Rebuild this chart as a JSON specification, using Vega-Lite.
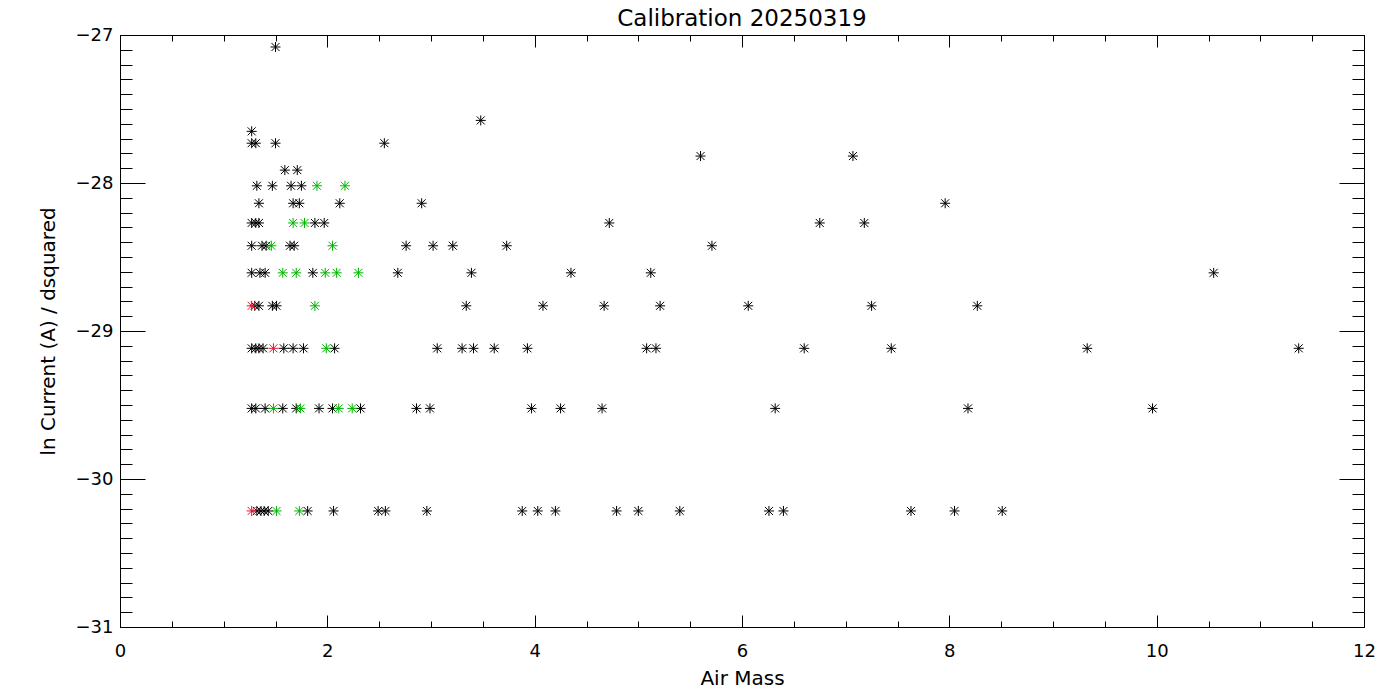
{
  "$schema": "https://vega.github.io/schema/vega-lite/v6.json",
  "width": 1244,
  "height": 592,
  "autosize": {"type": "none"},
  "padding": {"left": 120, "top": 35, "right": 36, "bottom": 73},
  "background": "white",
  "config": {"view": {"stroke": null}},
  "title": {"text": "Calibration 20250319", "font": "DejaVu Sans", "fontSize": 23, "fontWeight": "normal", "color": "black", "anchor": "middle", "frame": "group", "offset": 9, "dy": 14},
  "data": {"values": [
    {"x": 1.50, "y": -27.081, "c": "k"},
    {"x": 3.48, "y": -27.577, "c": "k"},
    {"x": 1.27, "y": -27.651, "c": "k"},
    {"x": 1.27, "y": -27.731, "c": "k"},
    {"x": 1.31, "y": -27.731, "c": "k"},
    {"x": 1.50, "y": -27.731, "c": "k"},
    {"x": 2.55, "y": -27.731, "c": "k"},
    {"x": 5.60, "y": -27.818, "c": "k"},
    {"x": 7.07, "y": -27.818, "c": "k"},
    {"x": 1.59, "y": -27.913, "c": "k"},
    {"x": 1.71, "y": -27.913, "c": "k"},
    {"x": 1.32, "y": -28.019, "c": "k"},
    {"x": 1.47, "y": -28.019, "c": "k"},
    {"x": 1.65, "y": -28.019, "c": "k"},
    {"x": 1.75, "y": -28.019, "c": "k"},
    {"x": 1.34, "y": -28.137, "c": "k"},
    {"x": 1.67, "y": -28.137, "c": "k"},
    {"x": 1.73, "y": -28.137, "c": "k"},
    {"x": 2.12, "y": -28.137, "c": "k"},
    {"x": 2.91, "y": -28.137, "c": "k"},
    {"x": 7.96, "y": -28.137, "c": "k"},
    {"x": 1.27, "y": -28.270, "c": "k"},
    {"x": 1.31, "y": -28.270, "c": "k"},
    {"x": 1.34, "y": -28.270, "c": "k"},
    {"x": 1.88, "y": -28.270, "c": "k"},
    {"x": 1.97, "y": -28.270, "c": "k"},
    {"x": 4.72, "y": -28.270, "c": "k"},
    {"x": 6.75, "y": -28.270, "c": "k"},
    {"x": 7.18, "y": -28.270, "c": "k"},
    {"x": 1.27, "y": -28.424, "c": "k"},
    {"x": 1.37, "y": -28.424, "c": "k"},
    {"x": 1.41, "y": -28.424, "c": "k"},
    {"x": 1.64, "y": -28.424, "c": "k"},
    {"x": 1.68, "y": -28.424, "c": "k"},
    {"x": 2.76, "y": -28.424, "c": "k"},
    {"x": 3.02, "y": -28.424, "c": "k"},
    {"x": 3.21, "y": -28.424, "c": "k"},
    {"x": 3.73, "y": -28.424, "c": "k"},
    {"x": 5.71, "y": -28.424, "c": "k"},
    {"x": 1.27, "y": -28.607, "c": "k"},
    {"x": 1.35, "y": -28.607, "c": "k"},
    {"x": 1.40, "y": -28.607, "c": "k"},
    {"x": 1.86, "y": -28.607, "c": "k"},
    {"x": 2.68, "y": -28.607, "c": "k"},
    {"x": 3.39, "y": -28.607, "c": "k"},
    {"x": 4.35, "y": -28.607, "c": "k"},
    {"x": 5.12, "y": -28.607, "c": "k"},
    {"x": 10.55, "y": -28.607, "c": "k"},
    {"x": 1.30, "y": -28.830, "c": "k"},
    {"x": 1.34, "y": -28.830, "c": "k"},
    {"x": 1.47, "y": -28.830, "c": "k"},
    {"x": 1.51, "y": -28.830, "c": "k"},
    {"x": 3.34, "y": -28.830, "c": "k"},
    {"x": 4.08, "y": -28.830, "c": "k"},
    {"x": 4.67, "y": -28.830, "c": "k"},
    {"x": 5.21, "y": -28.830, "c": "k"},
    {"x": 6.06, "y": -28.830, "c": "k"},
    {"x": 7.25, "y": -28.830, "c": "k"},
    {"x": 8.27, "y": -28.830, "c": "k"},
    {"x": 1.27, "y": -29.117, "c": "k"},
    {"x": 1.31, "y": -29.117, "c": "k"},
    {"x": 1.34, "y": -29.117, "c": "k"},
    {"x": 1.38, "y": -29.117, "c": "k"},
    {"x": 1.58, "y": -29.117, "c": "k"},
    {"x": 1.67, "y": -29.117, "c": "k"},
    {"x": 1.77, "y": -29.117, "c": "k"},
    {"x": 2.07, "y": -29.117, "c": "k"},
    {"x": 3.06, "y": -29.117, "c": "k"},
    {"x": 3.30, "y": -29.117, "c": "k"},
    {"x": 3.41, "y": -29.117, "c": "k"},
    {"x": 3.61, "y": -29.117, "c": "k"},
    {"x": 3.93, "y": -29.117, "c": "k"},
    {"x": 5.08, "y": -29.117, "c": "k"},
    {"x": 5.17, "y": -29.117, "c": "k"},
    {"x": 6.60, "y": -29.117, "c": "k"},
    {"x": 7.44, "y": -29.117, "c": "k"},
    {"x": 9.33, "y": -29.117, "c": "k"},
    {"x": 11.37, "y": -29.117, "c": "k"},
    {"x": 1.27, "y": -29.523, "c": "k"},
    {"x": 1.31, "y": -29.523, "c": "k"},
    {"x": 1.40, "y": -29.523, "c": "k"},
    {"x": 1.57, "y": -29.523, "c": "k"},
    {"x": 1.70, "y": -29.523, "c": "k"},
    {"x": 1.92, "y": -29.523, "c": "k"},
    {"x": 2.05, "y": -29.523, "c": "k"},
    {"x": 2.32, "y": -29.523, "c": "k"},
    {"x": 2.86, "y": -29.523, "c": "k"},
    {"x": 2.99, "y": -29.523, "c": "k"},
    {"x": 3.97, "y": -29.523, "c": "k"},
    {"x": 4.25, "y": -29.523, "c": "k"},
    {"x": 4.65, "y": -29.523, "c": "k"},
    {"x": 6.32, "y": -29.523, "c": "k"},
    {"x": 8.18, "y": -29.523, "c": "k"},
    {"x": 9.96, "y": -29.523, "c": "k"},
    {"x": 1.32, "y": -30.216, "c": "k"},
    {"x": 1.36, "y": -30.216, "c": "k"},
    {"x": 1.39, "y": -30.216, "c": "k"},
    {"x": 1.43, "y": -30.216, "c": "k"},
    {"x": 1.81, "y": -30.216, "c": "k"},
    {"x": 2.06, "y": -30.216, "c": "k"},
    {"x": 2.49, "y": -30.216, "c": "k"},
    {"x": 2.56, "y": -30.216, "c": "k"},
    {"x": 2.96, "y": -30.216, "c": "k"},
    {"x": 3.88, "y": -30.216, "c": "k"},
    {"x": 4.03, "y": -30.216, "c": "k"},
    {"x": 4.20, "y": -30.216, "c": "k"},
    {"x": 4.79, "y": -30.216, "c": "k"},
    {"x": 5.00, "y": -30.216, "c": "k"},
    {"x": 5.40, "y": -30.216, "c": "k"},
    {"x": 6.26, "y": -30.216, "c": "k"},
    {"x": 6.40, "y": -30.216, "c": "k"},
    {"x": 7.63, "y": -30.216, "c": "k"},
    {"x": 8.05, "y": -30.216, "c": "k"},
    {"x": 8.51, "y": -30.216, "c": "k"},
    {"x": 1.90, "y": -28.019, "c": "g"},
    {"x": 2.17, "y": -28.019, "c": "g"},
    {"x": 1.67, "y": -28.270, "c": "g"},
    {"x": 1.78, "y": -28.270, "c": "g"},
    {"x": 1.46, "y": -28.424, "c": "g"},
    {"x": 2.05, "y": -28.424, "c": "g"},
    {"x": 1.57, "y": -28.607, "c": "g"},
    {"x": 1.70, "y": -28.607, "c": "g"},
    {"x": 1.98, "y": -28.607, "c": "g"},
    {"x": 2.09, "y": -28.607, "c": "g"},
    {"x": 2.30, "y": -28.607, "c": "g"},
    {"x": 1.88, "y": -28.830, "c": "g"},
    {"x": 1.99, "y": -29.117, "c": "g"},
    {"x": 1.48, "y": -29.523, "c": "g"},
    {"x": 1.74, "y": -29.523, "c": "g"},
    {"x": 2.11, "y": -29.523, "c": "g"},
    {"x": 2.24, "y": -29.523, "c": "g"},
    {"x": 1.51, "y": -30.216, "c": "g"},
    {"x": 1.73, "y": -30.216, "c": "g"},
    {"x": 1.27, "y": -28.830, "c": "r"},
    {"x": 1.48, "y": -29.117, "c": "r"},
    {"x": 1.27, "y": -30.216, "c": "r"}
  ]},
  "resolve": {"axis": {"x": "independent", "y": "independent"}},
  "layer": [
    {
      "mark": {"type": "point", "shape": "M-1,0L1,0M0,-1L0,1M-0.8,-0.8L0.8,0.8M-0.8,0.8L0.8,-0.8", "filled": false, "size": 100, "strokeWidth": 1, "opacity": 1},
      "encoding": {
        "x": {"field": "x", "type": "quantitative", "scale": {"domain": [0, 12], "nice": false, "zero": false},
          "axis": {"orient": "bottom", "values": [0, 2, 4, 6, 8, 10, 12], "format": "d", "tickSize": -12, "tickColor": "black", "tickWidth": 1, "domain": true, "domainColor": "black", "domainWidth": 1, "grid": false, "labelFont": "DejaVu Sans", "labelFontSize": 18, "labelColor": "black", "labelFlush": false, "labelOverlap": false, "labelPadding": 27, "labelBaseline": "top", "title": "Air Mass", "titleFont": "DejaVu Sans", "titleFontSize": 20, "titleFontWeight": "normal", "titleColor": "black", "titlePadding": 8}},
        "y": {"field": "y", "type": "quantitative", "scale": {"domain": [-31, -27], "nice": false, "zero": false},
          "axis": {"orient": "left", "values": [-31, -30, -29, -28, -27], "format": "d", "tickSize": -25, "tickColor": "black", "tickWidth": 1, "domain": true, "domainColor": "black", "domainWidth": 1, "grid": false, "labelFont": "DejaVu Sans", "labelFontSize": 18, "labelColor": "black", "labelFlush": false, "labelOverlap": false, "labelPadding": 32, "title": "ln Current (A) / dsquared", "titleFont": "DejaVu Sans", "titleFontSize": 20, "titleFontWeight": "normal", "titleColor": "black", "titlePadding": 17}},
        "color": {"field": "c", "type": "nominal", "scale": {"domain": ["k", "g", "r"], "range": ["#000000", "#00b400", "#ee1030"]}, "legend": null}
      }
    },
    {
      "mark": {"type": "point", "opacity": 0},
      "encoding": {
        "x": {"field": "x", "type": "quantitative", "scale": {"domain": [0, 12], "nice": false, "zero": false},
          "axis": {"orient": "bottom", "values": [0, 0.5, 1, 1.5, 2, 2.5, 3, 3.5, 4, 4.5, 5, 5.5, 6, 6.5, 7, 7.5, 8, 8.5, 9, 9.5, 10, 10.5, 11, 11.5, 12], "tickSize": -6, "tickColor": "black", "tickWidth": 1, "domain": false, "grid": false, "labels": false, "title": null}},
        "y": {"field": "y", "type": "quantitative", "scale": {"domain": [-31, -27], "nice": false, "zero": false},
          "axis": {"orient": "left", "values": [-31, -30.9, -30.8, -30.7, -30.6, -30.5, -30.4, -30.3, -30.2, -30.1, -30, -29.9, -29.8, -29.7, -29.6, -29.5, -29.4, -29.3, -29.2, -29.1, -29, -28.9, -28.8, -28.7, -28.6, -28.5, -28.4, -28.3, -28.2, -28.1, -28, -27.9, -27.8, -27.7, -27.6, -27.5, -27.4, -27.3, -27.2, -27.1, -27], "tickSize": -12, "tickColor": "black", "tickWidth": 1, "domain": false, "grid": false, "labels": false, "title": null}}
      }
    },
    {
      "mark": {"type": "point", "opacity": 0},
      "encoding": {
        "x": {"field": "x", "type": "quantitative", "scale": {"domain": [0, 12], "nice": false, "zero": false},
          "axis": {"orient": "top", "values": [0, 2, 4, 6, 8, 10, 12], "tickSize": -12, "tickColor": "black", "tickWidth": 1, "domain": true, "domainColor": "black", "domainWidth": 1, "grid": false, "labels": false, "title": null}},
        "y": {"field": "y", "type": "quantitative", "scale": {"domain": [-31, -27], "nice": false, "zero": false},
          "axis": {"orient": "right", "values": [-31, -30, -29, -28, -27], "tickSize": -25, "tickColor": "black", "tickWidth": 1, "domain": true, "domainColor": "black", "domainWidth": 1, "grid": false, "labels": false, "title": null}}
      }
    },
    {
      "mark": {"type": "point", "opacity": 0},
      "encoding": {
        "x": {"field": "x", "type": "quantitative", "scale": {"domain": [0, 12], "nice": false, "zero": false},
          "axis": {"orient": "top", "values": [0, 0.5, 1, 1.5, 2, 2.5, 3, 3.5, 4, 4.5, 5, 5.5, 6, 6.5, 7, 7.5, 8, 8.5, 9, 9.5, 10, 10.5, 11, 11.5, 12], "tickSize": -6, "tickColor": "black", "tickWidth": 1, "domain": false, "grid": false, "labels": false, "title": null}},
        "y": {"field": "y", "type": "quantitative", "scale": {"domain": [-31, -27], "nice": false, "zero": false},
          "axis": {"orient": "right", "values": [-31, -30.9, -30.8, -30.7, -30.6, -30.5, -30.4, -30.3, -30.2, -30.1, -30, -29.9, -29.8, -29.7, -29.6, -29.5, -29.4, -29.3, -29.2, -29.1, -29, -28.9, -28.8, -28.7, -28.6, -28.5, -28.4, -28.3, -28.2, -28.1, -28, -27.9, -27.8, -27.7, -27.6, -27.5, -27.4, -27.3, -27.2, -27.1, -27], "tickSize": -12, "tickColor": "black", "tickWidth": 1, "domain": false, "grid": false, "labels": false, "title": null}}
      }
    }
  ]
}
